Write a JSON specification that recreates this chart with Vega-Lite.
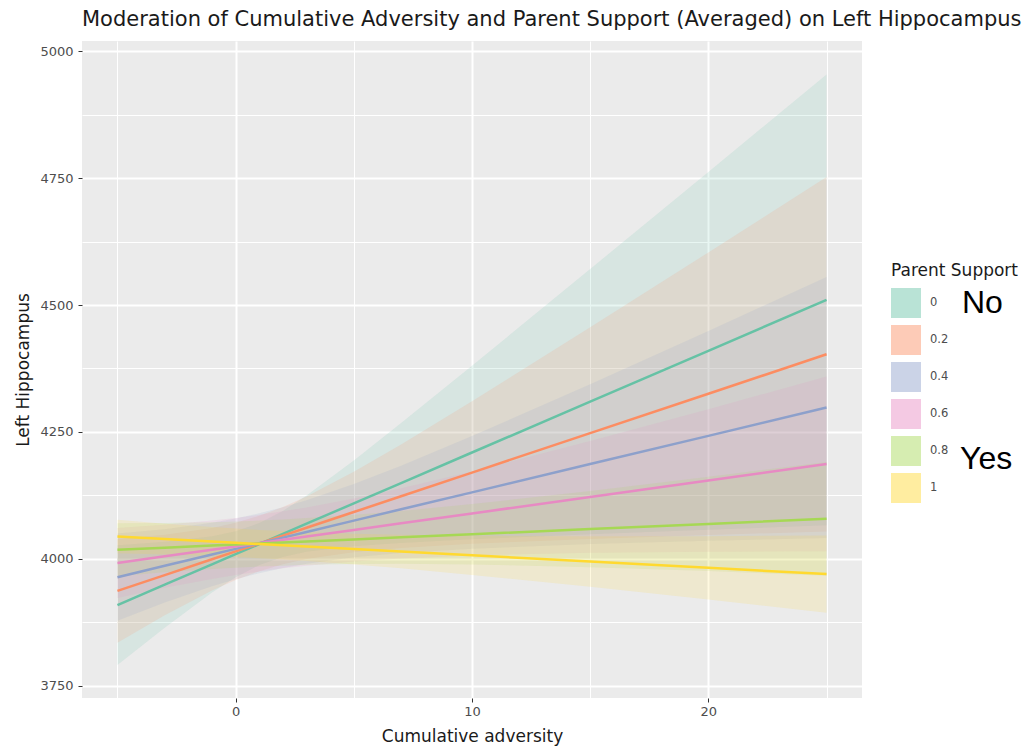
{
  "$schema": "https://vega.github.io/schema/vega-lite/v6.json",
  "width": 780,
  "height": 657,
  "autosize": {"type": "none"},
  "padding": {"left": 82, "top": 41, "right": 165, "bottom": 54},
  "background": "white",
  "title": {"text": "Moderation of Cumulative Adversity and Parent Support (Averaged) on Left Hippocampus", "anchor": "start", "frame": "group", "fontSize": 21, "font": "DejaVu Sans", "fontWeight": "normal", "color": "#1a1a1a", "baseline": "alphabetic", "offset": -6},
  "config": {"view": {"fill": "#ebebeb", "stroke": null}, "font": "DejaVu Sans"},
  "resolve": {"axis": {"x": "independent", "y": "independent"}},
  "datasets": {
    "fits": [
      {"support": "0", "adversity": -5, "fit": 3909, "lower": 3791, "upper": 4027},
      {"support": "0", "adversity": -3, "fit": 3949.1, "lower": 3864.6, "upper": 4033.6},
      {"support": "0", "adversity": -1, "fit": 3989.2, "lower": 3933.8, "upper": 4044.6},
      {"support": "0", "adversity": 0, "fit": 4009.2, "lower": 3963.9, "upper": 4054.5},
      {"support": "0", "adversity": 1, "fit": 4029.2, "lower": 3987.8, "upper": 4070.6},
      {"support": "0", "adversity": 2, "fit": 4049.2, "lower": 4003.9, "upper": 4094.5},
      {"support": "0", "adversity": 3, "fit": 4069.3, "lower": 4013.9, "upper": 4124.7},
      {"support": "0", "adversity": 5, "fit": 4109.3, "lower": 4024.8, "upper": 4193.8},
      {"support": "0", "adversity": 7, "fit": 4149.4, "lower": 4031.4, "upper": 4267.4},
      {"support": "0", "adversity": 10, "fit": 4209.5, "lower": 4038.6, "upper": 4380.4},
      {"support": "0", "adversity": 15, "fit": 4309.7, "lower": 4048.5, "upper": 4570.9},
      {"support": "0", "adversity": 20, "fit": 4409.8, "lower": 4057.4, "upper": 4762.2},
      {"support": "0", "adversity": 25, "fit": 4510, "lower": 4066, "upper": 4954},
      {"support": "0.2", "adversity": -5, "fit": 3937, "lower": 3835, "upper": 4039},
      {"support": "0.2", "adversity": -3, "fit": 3968.1, "lower": 3888.9, "upper": 4047.3},
      {"support": "0.2", "adversity": -1, "fit": 3999.2, "lower": 3937.5, "upper": 4060.9},
      {"support": "0.2", "adversity": 0, "fit": 4014.7, "lower": 3958.3, "upper": 4071.1},
      {"support": "0.2", "adversity": 1, "fit": 4030.2, "lower": 3975.6, "upper": 4084.8},
      {"support": "0.2", "adversity": 2, "fit": 4045.7, "lower": 3989.3, "upper": 4102.1},
      {"support": "0.2", "adversity": 3, "fit": 4061.3, "lower": 3999.6, "upper": 4123.0},
      {"support": "0.2", "adversity": 5, "fit": 4092.3, "lower": 4013.1, "upper": 4171.5},
      {"support": "0.2", "adversity": 7, "fit": 4123.4, "lower": 4021.4, "upper": 4225.4},
      {"support": "0.2", "adversity": 10, "fit": 4170.0, "lower": 4029.7, "upper": 4310.3},
      {"support": "0.2", "adversity": 15, "fit": 4247.7, "lower": 4039.3, "upper": 4456.1},
      {"support": "0.2", "adversity": 20, "fit": 4325.3, "lower": 4047.0, "upper": 4603.6},
      {"support": "0.2", "adversity": 25, "fit": 4403, "lower": 4054, "upper": 4752},
      {"support": "0.4", "adversity": -5, "fit": 3964, "lower": 3878, "upper": 4050},
      {"support": "0.4", "adversity": -3, "fit": 3986.3, "lower": 3914.0, "upper": 4058.6},
      {"support": "0.4", "adversity": -1, "fit": 4008.5, "lower": 3945.9, "upper": 4071.1},
      {"support": "0.4", "adversity": 0, "fit": 4019.7, "lower": 3959.7, "upper": 4079.7},
      {"support": "0.4", "adversity": 1, "fit": 4030.8, "lower": 3971.8, "upper": 4089.8},
      {"support": "0.4", "adversity": 2, "fit": 4041.9, "lower": 3981.9, "upper": 4101.9},
      {"support": "0.4", "adversity": 3, "fit": 4053.1, "lower": 3990.5, "upper": 4115.7},
      {"support": "0.4", "adversity": 5, "fit": 4075.3, "lower": 4003.0, "upper": 4147.6},
      {"support": "0.4", "adversity": 7, "fit": 4097.6, "lower": 4011.6, "upper": 4183.6},
      {"support": "0.4", "adversity": 10, "fit": 4131.0, "lower": 4020.2, "upper": 4241.8},
      {"support": "0.4", "adversity": 15, "fit": 4186.7, "lower": 4029.3, "upper": 4344.1},
      {"support": "0.4", "adversity": 20, "fit": 4242.3, "lower": 4035.7, "upper": 4448.9},
      {"support": "0.4", "adversity": 25, "fit": 4298, "lower": 4041, "upper": 4555},
      {"support": "0.6", "adversity": -5, "fit": 3992, "lower": 3923, "upper": 4061},
      {"support": "0.6", "adversity": -3, "fit": 4005, "lower": 3943, "upper": 4067},
      {"support": "0.6", "adversity": -1, "fit": 4018, "lower": 3960.6, "upper": 4075.4},
      {"support": "0.6", "adversity": 0, "fit": 4024.5, "lower": 3968.4, "upper": 4080.6},
      {"support": "0.6", "adversity": 1, "fit": 4031, "lower": 3975.3, "upper": 4086.7},
      {"support": "0.6", "adversity": 2, "fit": 4037.5, "lower": 3981.4, "upper": 4093.6},
      {"support": "0.6", "adversity": 3, "fit": 4044, "lower": 3986.6, "upper": 4101.4},
      {"support": "0.6", "adversity": 5, "fit": 4057, "lower": 3995, "upper": 4119},
      {"support": "0.6", "adversity": 7, "fit": 4070, "lower": 4001, "upper": 4139},
      {"support": "0.6", "adversity": 10, "fit": 4089.5, "lower": 4006.9, "upper": 4172.1},
      {"support": "0.6", "adversity": 15, "fit": 4122, "lower": 4011.9, "upper": 4232.1},
      {"support": "0.6", "adversity": 20, "fit": 4154.5, "lower": 4014.1, "upper": 4294.9},
      {"support": "0.6", "adversity": 25, "fit": 4187, "lower": 4015, "upper": 4359},
      {"support": "0.8", "adversity": -5, "fit": 4018, "lower": 3966, "upper": 4070},
      {"support": "0.8", "adversity": -3, "fit": 4022.1, "lower": 3973.7, "upper": 4070.5},
      {"support": "0.8", "adversity": -1, "fit": 4026.2, "lower": 3980.1, "upper": 4072.3},
      {"support": "0.8", "adversity": 0, "fit": 4028.2, "lower": 3982.7, "upper": 4073.7},
      {"support": "0.8", "adversity": 1, "fit": 4030.2, "lower": 3984.9, "upper": 4075.5},
      {"support": "0.8", "adversity": 2, "fit": 4032.2, "lower": 3986.7, "upper": 4077.7},
      {"support": "0.8", "adversity": 3, "fit": 4034.3, "lower": 3988.2, "upper": 4080.4},
      {"support": "0.8", "adversity": 5, "fit": 4038.3, "lower": 3989.9, "upper": 4086.7},
      {"support": "0.8", "adversity": 7, "fit": 4042.4, "lower": 3990.4, "upper": 4094.4},
      {"support": "0.8", "adversity": 10, "fit": 4048.5, "lower": 3989.1, "upper": 4107.9},
      {"support": "0.8", "adversity": 15, "fit": 4058.7, "lower": 3983.7, "upper": 4133.7},
      {"support": "0.8", "adversity": 20, "fit": 4068.8, "lower": 3975.9, "upper": 4161.7},
      {"support": "0.8", "adversity": 25, "fit": 4079, "lower": 3967, "upper": 4191},
      {"support": "1", "adversity": -5, "fit": 4044, "lower": 4011, "upper": 4077},
      {"support": "1", "adversity": -3, "fit": 4039.1, "lower": 4008.8, "upper": 4069.4},
      {"support": "1", "adversity": -1, "fit": 4034.2, "lower": 4005.7, "upper": 4062.7},
      {"support": "1", "adversity": 0, "fit": 4031.7, "lower": 4003.7, "upper": 4059.7},
      {"support": "1", "adversity": 1, "fit": 4029.2, "lower": 4001.3, "upper": 4057.1},
      {"support": "1", "adversity": 2, "fit": 4026.7, "lower": 3998.7, "upper": 4054.7},
      {"support": "1", "adversity": 3, "fit": 4024.3, "lower": 3995.8, "upper": 4052.8},
      {"support": "1", "adversity": 5, "fit": 4019.3, "lower": 3989.0, "upper": 4049.6},
      {"support": "1", "adversity": 7, "fit": 4014.4, "lower": 3981.4, "upper": 4047.4},
      {"support": "1", "adversity": 10, "fit": 4007.0, "lower": 3968.5, "upper": 4045.5},
      {"support": "1", "adversity": 15, "fit": 3994.7, "lower": 3944.9, "upper": 4044.5},
      {"support": "1", "adversity": 20, "fit": 3982.3, "lower": 3919.8, "upper": 4044.8},
      {"support": "1", "adversity": 25, "fit": 3970, "lower": 3894, "upper": 4046}
    ],
    "notes": [
      {"note": "No", "adversity": 30.73, "fit": 4504},
      {"note": "Yes", "adversity": 30.65, "fit": 4197}
    ]
  },
  "layer": [
    {
      "data": {"name": "fits"},
      "mark": {"type": "area", "opacity": 0.15},
      "encoding": {
        "x": {"field": "adversity", "type": "quantitative", "title": "Cumulative adversity",
          "scale": {"domain": [-6.5, 26.5], "nice": false, "zero": false},
          "axis": {"orient": "bottom", "values": [0, 10, 20], "grid": true, "gridColor": "white", "gridWidth": 2,
            "domain": false, "tickColor": "#333333", "tickSize": 4, "tickWidth": 1,
            "labelFontSize": 13, "labelColor": "#4d4d4d", "labelPadding": 3, "labelFont": "DejaVu Sans",
            "titleFontSize": 17, "titleFont": "DejaVu Sans", "titleFontWeight": "normal", "titleColor": "#1a1a1a", "titlePadding": 10}},
        "y": {"field": "lower", "type": "quantitative", "title": "Left Hippocampus",
          "scale": {"domain": [3726, 5020], "nice": false, "zero": false},
          "axis": {"orient": "left", "values": [3750, 4000, 4250, 4500, 4750, 5000], "format": "d", "grid": true, "gridColor": "white", "gridWidth": 2,
            "domain": false, "tickColor": "#333333", "tickSize": 4, "tickWidth": 1,
            "labelFontSize": 13, "labelColor": "#4d4d4d", "labelPadding": 5, "labelFont": "DejaVu Sans",
            "titleFontSize": 17, "titleFont": "DejaVu Sans", "titleFontWeight": "normal", "titleColor": "#1a1a1a", "titlePadding": 7}},
        "y2": {"field": "upper"},
        "color": {"field": "support", "type": "nominal",
          "scale": {"domain": ["0", "0.2", "0.4", "0.6", "0.8", "1"], "range": ["#66c2a5", "#fc8d62", "#8da0cb", "#e78ac3", "#a6d854", "#ffd92f"]},
          "legend": {"title": "Parent Support", "orient": "none", "legendX": 809, "legendY": 222, "padding": 0,
            "titleFontSize": 17, "titleFont": "DejaVu Sans", "titleFontWeight": "normal", "titleColor": "#1a1a1a", "titlePadding": 8,
            "labelFontSize": 11.5, "labelColor": "#4d4d4d", "labelFont": "DejaVu Sans", "labelOffset": 9,
            "symbolType": "M-1,-1H1V-0.06H-1Z M-1,0.06H1V1H-1Z", "symbolSize": 784, "symbolStrokeWidth": 2, "symbolOpacity": 0.45, "rowPadding": 1}}
      }
    },
    {
      "data": {"name": "fits"},
      "mark": {"type": "line", "strokeWidth": 2.5},
      "encoding": {
        "x": {"field": "adversity", "type": "quantitative", "title": null,
          "scale": {"domain": [-6.5, 26.5], "nice": false, "zero": false},
          "axis": {"orient": "top", "values": [-5, 5, 15, 25], "grid": true, "gridColor": "white", "gridWidth": 1,
            "domain": false, "ticks": false, "tickSize": 0, "tickColor": "transparent", "labels": false, "title": null}},
        "y": {"field": "fit", "type": "quantitative", "title": null,
          "scale": {"domain": [3726, 5020], "nice": false, "zero": false},
          "axis": {"orient": "right", "values": [3875, 4125, 4375, 4625, 4875], "grid": true, "gridColor": "white", "gridWidth": 1,
            "domain": false, "ticks": false, "tickSize": 0, "tickColor": "transparent", "labels": false, "title": null}},
        "color": {"field": "support", "type": "nominal",
          "scale": {"domain": ["0", "0.2", "0.4", "0.6", "0.8", "1"], "range": ["#66c2a5", "#fc8d62", "#8da0cb", "#e78ac3", "#a6d854", "#ffd92f"]},
          "legend": {"title": "Parent Support", "orient": "none", "legendX": 809, "legendY": 222, "padding": 0,
            "titleFontSize": 17, "titleFont": "DejaVu Sans", "titleFontWeight": "normal", "titleColor": "#1a1a1a", "titlePadding": 8,
            "labelFontSize": 11.5, "labelColor": "#4d4d4d", "labelFont": "DejaVu Sans", "labelOffset": 9,
            "symbolType": "M-1,-1H1V-0.06H-1Z M-1,0.06H1V1H-1Z", "symbolSize": 784, "symbolStrokeWidth": 2, "symbolOpacity": 0.45, "rowPadding": 1}}
      }
    },
    {
      "data": {"name": "notes"},
      "mark": {"type": "text", "font": "Liberation Sans", "fontSize": 32, "align": "left", "baseline": "middle", "clip": false, "color": "black"},
      "encoding": {
        "x": {"field": "adversity", "type": "quantitative", "axis": null, "scale": {"domain": [-6.5, 26.5], "nice": false, "zero": false}},
        "y": {"field": "fit", "type": "quantitative", "axis": null, "scale": {"domain": [3726, 5020], "nice": false, "zero": false}},
        "text": {"field": "note"}
      }
    }
  ]
}
